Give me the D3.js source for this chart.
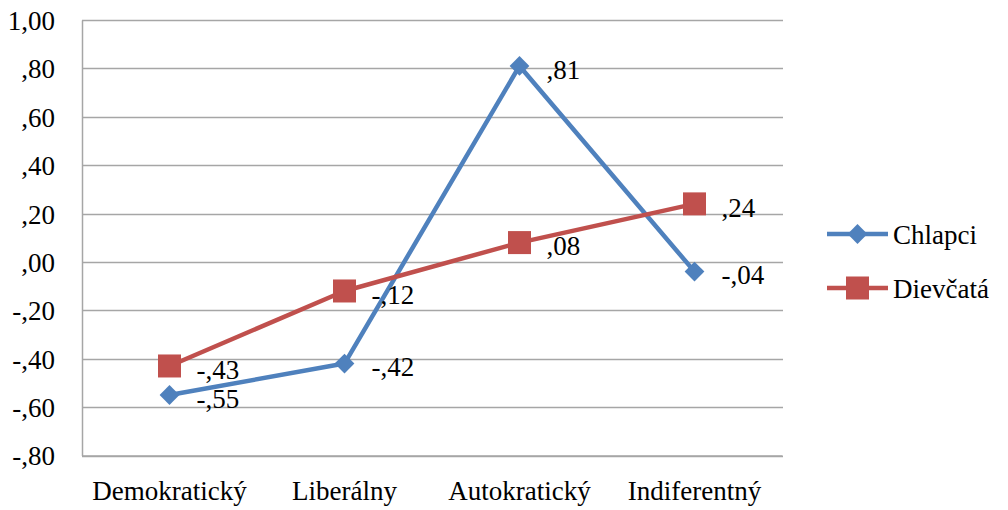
<!DOCTYPE html>
<html><head><meta charset="utf-8">
<script src="https://cdn.jsdelivr.net/npm/d3@7"></script>
<style>body{margin:0;background:#fff}svg{display:block}</style>
</head><body><svg id="c" width="1008" height="510" font-family="'Liberation Serif'"></svg>
<script>
const categories = ["Demokratický","Liberálny","Autokratický","Indiferentný"];
const chlapci = [-0.55,-0.42,0.81,-0.04];
const dievcata = [-0.43,-0.12,0.08,0.24];
const seriesNames = ["Chlapci","Dievčatá"];
const yTicks = [-0.8,-0.6,-0.4,-0.2,0,0.2,0.4,0.6,0.8,1.0];

const FONT = "'Liberation Serif'";
const FS = 27;
const fmt = v => {
  const s = Math.abs(v).toFixed(2).replace(".", ",");
  const t = Math.abs(v) < 1 ? s.replace(/^0/, "") : s;
  return (v < 0 ? "-" : "") + t;
};

const svg = d3.select("#c");
const L = 82, R = 782, T = 20, B = 455.5;
const x = d3.scaleBand().domain(categories).range([L, R]);
const y = d3.scaleLinear().domain([-0.8, 1.0]).range([B, T]);
const cx = c => x(c) + x.bandwidth() / 2;
const colors = ["#4F81BD", "#C0504D"];
const data = [chlapci, dievcata];

function styleAxis(g) {
  g.attr("font-family", FONT).attr("font-size", FS);
  g.selectAll("text").attr("font-family", FONT).attr("font-size", FS).attr("fill", "#000");
}

// grid
svg.append("g").selectAll("line").data(yTicks).join("line")
  .attr("x1", L).attr("x2", R + 1)
  .attr("y1", d => Math.round(y(d)) + 0.5).attr("y2", d => Math.round(y(d)) + 0.5)
  .attr("stroke", "#a6a6a6").attr("stroke-width", 1.5);

// y axis
const ya = svg.append("g").attr("transform", `translate(${L},0)`)
  .call(d3.axisLeft(y).tickValues(yTicks).tickFormat(fmt).tickSize(0).tickPadding(27));
styleAxis(ya);
ya.select(".domain").attr("stroke", "#a6a6a6").attr("stroke-width", 1.5);
ya.selectAll("text").attr("dy", "0.35em");

// x axis
const xa = svg.append("g").attr("transform", `translate(0,${B})`)
  .call(d3.axisBottom(x).tickSize(0).tickPadding(24));
styleAxis(xa);
xa.select(".domain").attr("stroke", "#a6a6a6").attr("stroke-width", 1.5);
xa.selectAll("text").attr("dy", "0.75em");

// lines
const line = d3.line().x((d, i) => cx(categories[i])).y(d => y(d));
data.forEach((s, k) => {
  svg.append("path").datum(s).attr("d", line).attr("fill", "none")
    .attr("stroke", colors[k]).attr("stroke-width", 4.5).attr("stroke-linejoin", "round");
});

function marker(g, k, px, py) {
  if (k === 0) {
    g.append("path").attr("d", d3.symbol(d3.symbolDiamond2, 250)()).attr("transform", `translate(${px},${py})`)
      .attr("fill", colors[0]);
  } else {
    g.append("rect").attr("x", px - 11.5).attr("y", py - 11.5).attr("width", 23).attr("height", 23)
      .attr("fill", colors[1]);
  }
}

// markers
data.forEach((s, k) => {
  const g = svg.append("g");
  s.forEach((v, i) => marker(g, k, cx(categories[i]), y(v)));
});

// data labels, drawn with right-hand axes at each category
categories.forEach((c, i) => {
  const vals = data.map(s => s[i]);
  const g = svg.append("g").attr("transform", `translate(${cx(c) + 24},0)`)
    .call(d3.axisRight(y).tickValues(vals).tickFormat(fmt).tickSize(0).tickPadding(3));
  styleAxis(g);
  g.select(".domain").remove();
  g.selectAll("text").attr("dy", "0.45em");
});

// legend
const ly = d3.scalePoint().domain(seriesNames).range([234, 288]);
const lg = svg.append("g");
seriesNames.forEach((n, k) => {
  lg.append("line").attr("x1", 827).attr("x2", 888).attr("y1", ly(n)).attr("y2", ly(n))
    .attr("stroke", colors[k]).attr("stroke-width", 4.5);
  marker(lg, k, 857.5, ly(n));
});
const lgt = svg.append("g").attr("transform", "translate(890,0)")
  .call(d3.axisRight(ly).tickSize(0).tickPadding(3));
styleAxis(lgt);
lgt.select(".domain").remove();
lgt.selectAll("text").attr("dy", "0.35em");
</script></body></html>
